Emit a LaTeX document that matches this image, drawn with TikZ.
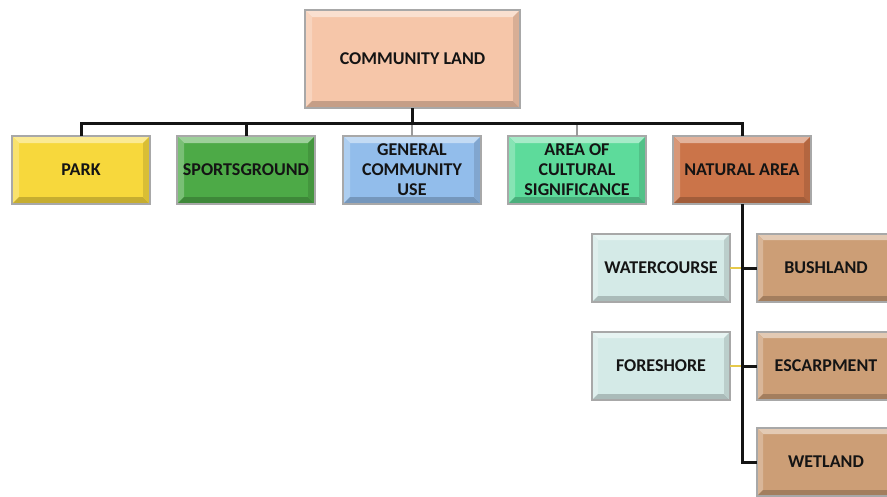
\documentclass[tikz,border=0pt]{standalone}
\usepackage{fontspec}
\setmainfont{Carlito}
\usetikzlibrary{positioning,calc}
\definecolor{boxgray}{HTML}{A8A8A8}
\definecolor{linkblack}{HTML}{141414}
\definecolor{linkgray}{HTML}{9A9A9A}
\definecolor{linkyellow}{HTML}{E6C94A}
\definecolor{landc}{HTML}{F6C6A9}
\definecolor{parkc}{HTML}{F7D83C}
\definecolor{sportc}{HTML}{4DAA47}
\definecolor{generalc}{HTML}{92BDEB}
\definecolor{culturec}{HTML}{5DDB9B}
\definecolor{naturalc}{HTML}{CB7449}
\definecolor{bushc}{HTML}{CC9E76}
\definecolor{waterc}{HTML}{D4EAE7}
\tikzset{
	bev sep/.store in=\bevsep,
	bev sep=7pt,
	bev/.style={
		draw=boxgray, line width=1.6pt, fill=#1, outer sep=0pt,
		minimum width=138pt, minimum height=68pt, inner sep=1pt,
		align=center, text=linkblack,
		font=\fontsize{18}{20}\selectfont\bfseries,
		path picture={
			\fill[#1!55!white] (path picture bounding box.north west) -- (path picture bounding box.north east)
				-- ([shift={(-\bevsep,-\bevsep)}]path picture bounding box.north east)
				-- ([shift={(\bevsep,-\bevsep)}]path picture bounding box.north west) -- cycle;
			\fill[#1!75!white] (path picture bounding box.north west) -- (path picture bounding box.south west)
				-- ([shift={(\bevsep,\bevsep)}]path picture bounding box.south west)
				-- ([shift={(\bevsep,-\bevsep)}]path picture bounding box.north west) -- cycle;
			\fill[#1!80!black] (path picture bounding box.south west) -- (path picture bounding box.south east)
				-- ([shift={(-\bevsep,\bevsep)}]path picture bounding box.south east)
				-- ([shift={(\bevsep,\bevsep)}]path picture bounding box.south west) -- cycle;
			\fill[#1!88!black] (path picture bounding box.north east) -- (path picture bounding box.south east)
				-- ([shift={(-\bevsep,\bevsep)}]path picture bounding box.south east)
				-- ([shift={(-\bevsep,-\bevsep)}]path picture bounding box.north east) -- cycle;
		}},
	link/.style={draw=linkblack, line width=3pt},
	link gray/.style={draw=linkgray, line width=2.4pt},
	link leaf/.style={draw=linkyellow, line width=2.4pt}
}

\begin{document}
\begin{tikzpicture}[x=1pt,y=-1pt,node distance=27pt]
	\clip (0,0) rectangle (887,496);
	% top of the tree
	\node[bev=landc, minimum width=215pt, minimum height=98pt] (land) at (412.5,59) {COMMUNITY LAND};
	% categories
	\node[bev=parkc] (park) at (81,170) {PARK};
	\node[bev=sportc, right=of park] (sport) {SPORTSGROUND};
	\node[bev=generalc, right=28pt of sport] (general) {GENERAL\\COMMUNITY\\USE};
	\node[bev=culturec, right=of general] (culture) {AREA OF\\CULTURAL\\SIGNIFICANCE};
	\node[bev=naturalc, right=of culture] (natural) {NATURAL AREA};
	% natural area types
	\node[bev=waterc, bev sep=6pt] (water) at (661,268) {WATERCOURSE};
	\node[bev=bushc, bev sep=6pt, right=of water] (bush) {BUSHLAND};
	\node[bev=waterc, bev sep=6pt, below=30pt of water] (shore) {FORESHORE};
	\node[bev=bushc, bev sep=6pt, right=of shore] (scarp) {ESCARPMENT};
	\node[bev=bushc, bev sep=6pt, below=28pt of scarp] (wet) {WETLAND};
	\coordinate (bar) at (0,123);
	% connectors
	\draw[link gray] (general.north) -- (general.north |- bar);
	\draw[link gray] (culture.north) -- (culture.north |- bar);
	\draw[link] (land.south) -- (land.south |- bar);
	\draw[link] (park.north) -- (park.north |- bar) -| (natural.north);
	\draw[link] (sport.north) -- (sport.north |- bar);
	\draw[link leaf] (water.east) -- (natural.south |- water.east);
	\draw[link leaf] (shore.east) -- (natural.south |- shore.east);
	\draw[link] (natural.south) |- (wet.west);
	\draw[link] (natural.south |- bush.west) -- (bush.west);
	\draw[link] (natural.south |- scarp.west) -- (scarp.west);
\end{tikzpicture}
\end{document}
